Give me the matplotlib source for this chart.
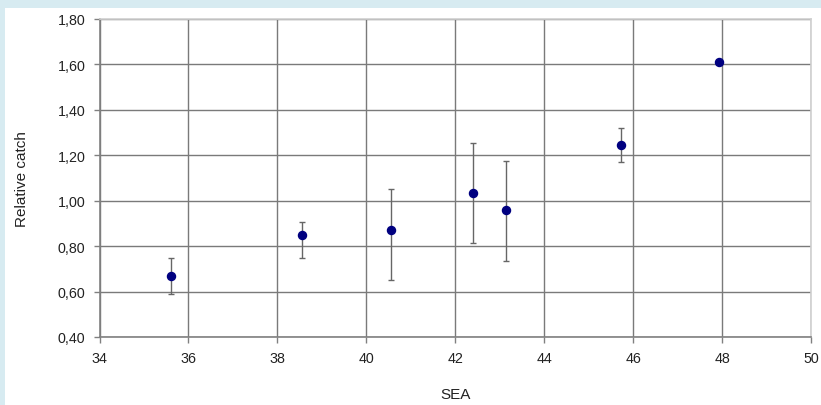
import matplotlib.pyplot as plt
from matplotlib.patches import Rectangle
from matplotlib.ticker import FuncFormatter, MultipleLocator

# SEA values and relative catch
sea = [35.61, 38.56, 40.56, 42.41, 43.14, 45.73, 47.92]
catch = [0.668, 0.850, 0.872, 1.035, 0.960, 1.246, 1.612]
err_top = [0.746, 0.905, 1.050, 1.255, 1.173, 1.321, 1.612]
err_bottom = [0.588, 0.748, 0.650, 0.812, 0.734, 1.171, 1.612]

lower = [c - b for c, b in zip(catch, err_bottom)]
upper = [t - c for c, t in zip(catch, err_top)]

fig = plt.figure(figsize=(8.21, 4.06), dpi=100)
fig.patch.set_facecolor('#d7ebf1')
# white panel inside the light blue frame
fig.patches.append(Rectangle((5 / 821, 0), 1, 1 - 9 / 406, transform=fig.transFigure,
                             facecolor='white', edgecolor='none', zorder=-10))

ax = fig.add_axes([99.5 / 821, 1 - 338 / 406, (811 - 99.5) / 821, (338 - 20) / 406])
ax.set_facecolor('white')

ax.errorbar(sea, catch, yerr=[lower, upper], fmt='none', ecolor='#666666',
            elinewidth=1.0, capsize=2.5, capthick=1.0, zorder=3)
ax.plot(sea, catch, 'o', color='#000080', markersize=5.8, zorder=4)

ax.set_xlim(34, 50)
ax.set_ylim(0.40, 1.80)
ax.xaxis.set_major_locator(MultipleLocator(2))
ax.yaxis.set_major_locator(MultipleLocator(0.2))
ax.yaxis.set_major_formatter(FuncFormatter(lambda v, p: f"{v:.2f}".replace('.', ',')))

ax.grid(True, color='#7a7a7a', linewidth=1.0)
ax.set_axisbelow(True)

for side in ['left', 'bottom']:
    ax.spines[side].set_color('#808080')
    ax.spines[side].set_linewidth(1.2)
for side in ['top', 'right']:
    ax.spines[side].set_color('#d0d0d0')
    ax.spines[side].set_linewidth(1.2)

ax.tick_params(axis='both', length=4, width=1.0, color='#808080',
               labelsize=10.3, labelcolor='#222222')
ax.tick_params(axis='x', pad=6)
ax.tick_params(axis='y', pad=6)
for lbl in ax.get_xticklabels() + ax.get_yticklabels():
    lbl.set_family('Liberation Sans')

ax.set_xlabel('SEA', fontsize=11, family='Liberation Sans', color='#222222')
ax.set_ylabel('Relative catch', fontsize=11, family='Liberation Sans', color='#222222')
ax.xaxis.set_label_coords(0.5, -0.157)
ax.yaxis.set_label_coords(-0.099, 0.5)

plt.savefig('out.png', dpi=100, facecolor=fig.get_facecolor())
